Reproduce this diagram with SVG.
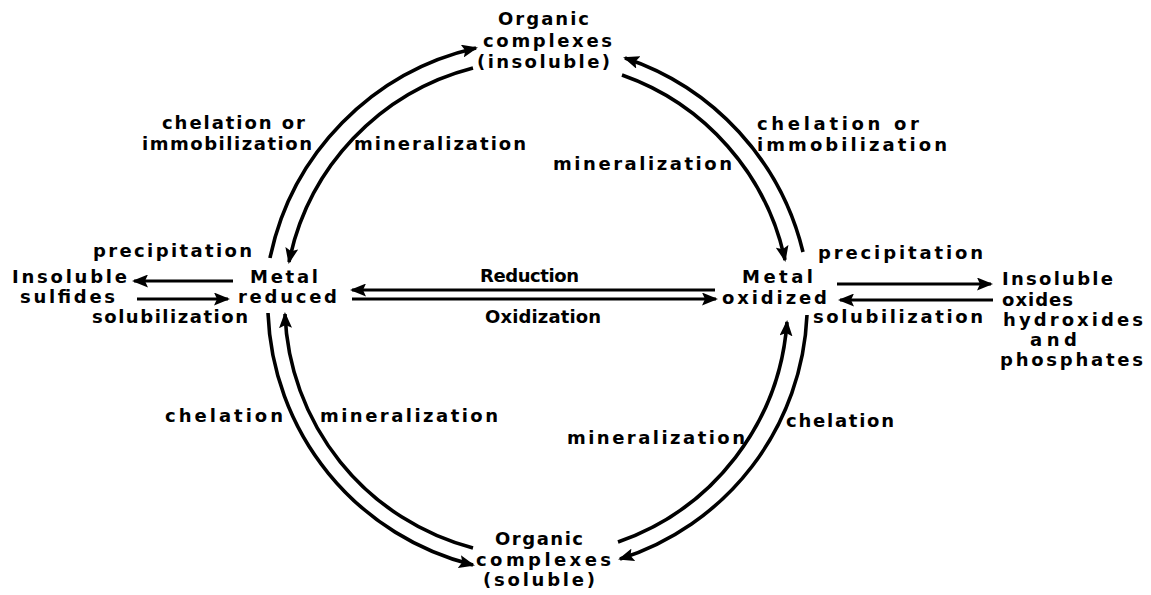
<svg xmlns="http://www.w3.org/2000/svg" width="1151" height="595" viewBox="0 0 1151 595">
<defs>
<marker id="ah" markerUnits="userSpaceOnUse" markerWidth="16" markerHeight="13" viewBox="0 0 16 13" refX="14" refY="6.5" orient="auto">
<path d="M0,0 L16,6.5 L0,13 L3,6.5 z" fill="#000"/>
</marker>
<style>
text{font-family:"DejaVu Sans","Liberation Sans",sans-serif;font-weight:bold;font-size:18px;fill:#000}
.c{fill:none;stroke:#000;stroke-width:3.6;marker-end:url(#ah)}
.s{fill:none;stroke:#000;stroke-width:3.2;marker-end:url(#ah)}
</style>
</defs>
<rect width="1151" height="595" fill="#fff"/>
<g id="node-top">
<text x="498" y="25" textLength="91" lengthAdjust="spacing">Organic</text>
<text x="483" y="47" textLength="129" lengthAdjust="spacing">complexes</text>
<text x="477" y="68" textLength="133" lengthAdjust="spacing">(insoluble)</text>
</g>
<g id="node-bottom">
<text x="495" y="545" textLength="88" lengthAdjust="spacing">Organic</text>
<text x="476" y="566" textLength="135" lengthAdjust="spacing">complexes</text>
<text x="483" y="586" textLength="112" lengthAdjust="spacing">(soluble)</text>
</g>
<g id="node-reduced">
<text x="250" y="283" textLength="68" lengthAdjust="spacing">Metal</text>
<text x="238" y="303" textLength="99" lengthAdjust="spacing">reduced</text>
</g>
<g id="node-oxidized">
<text x="742" y="283" textLength="71" lengthAdjust="spacing">Metal</text>
<text x="722" y="304" textLength="105" lengthAdjust="spacing">oxidized</text>
</g>
<g id="node-sulfides">
<text x="12" y="283" textLength="115" lengthAdjust="spacing">Insoluble</text>
<text x="20" y="303" textLength="95" lengthAdjust="spacing">sulfides</text>
</g>
<g id="node-oxides">
<text x="1002" y="285" textLength="111" lengthAdjust="spacing">Insoluble</text>
<text x="1002" y="306" textLength="71" lengthAdjust="spacing">oxides</text>
<text x="1003" y="326" textLength="140" lengthAdjust="spacing">hydroxides</text>
<text x="1030" y="346" textLength="47" lengthAdjust="spacing">and</text>
<text x="1000" y="366" textLength="143" lengthAdjust="spacing">phosphates</text>
</g>
<g id="connectors">
<path class="c" d="M270,258 A272,272 0 0 1 476,48"/>
<path class="c" d="M473,68 A252,252 0 0 0 289,262"/>
<path class="c" d="M803,252 A272,272 0 0 0 625,58"/>
<path class="c" d="M622,75 A252,252 0 0 1 785,260"/>
<path class="c" d="M268,313 A270,270 0 0 0 473,565"/>
<path class="c" d="M473,548 A252,252 0 0 1 285,314"/>
<path class="c" d="M807,315 A268,268 0 0 1 620,559"/>
<path class="c" d="M618,542 A252,252 0 0 0 787,322"/>
<path class="s" d="M233,281 L134,281"/>
<path class="s" d="M137,299 L228,299"/>
<path class="s" d="M715,290 L352,290"/>
<path class="s" d="M352,299 L716,299"/>
<path class="s" d="M837,284 L991,284"/>
<path class="s" d="M993,300 L840,300"/>
</g>
<g id="labels">
<text x="93" y="257" textLength="159" lengthAdjust="spacing">precipitation</text>
<text x="92" y="323" textLength="156" lengthAdjust="spacing">solubilization</text>
<text x="818" y="259" textLength="165" lengthAdjust="spacing">precipitation</text>
<text x="813" y="323" textLength="170" lengthAdjust="spacing">solubilization</text>
<text x="480" y="282" textLength="99" lengthAdjust="spacing">Reduction</text>
<text x="485" y="323" textLength="116" lengthAdjust="spacing">Oxidization</text>
<text x="162" y="129" textLength="143" lengthAdjust="spacing">chelation or</text>
<text x="142" y="150" textLength="170" lengthAdjust="spacing">immobilization</text>
<text x="354" y="150" textLength="172" lengthAdjust="spacing">mineralization</text>
<text x="757" y="130" textLength="162" lengthAdjust="spacing">chelation or</text>
<text x="757" y="151" textLength="190" lengthAdjust="spacing">immobilization</text>
<text x="553" y="170" textLength="179" lengthAdjust="spacing">mineralization</text>
<text x="165" y="422" textLength="118" lengthAdjust="spacing">chelation</text>
<text x="320" y="422" textLength="178" lengthAdjust="spacing">mineralization</text>
<text x="567" y="444" textLength="178" lengthAdjust="spacing">mineralization</text>
<text x="786" y="427" textLength="108" lengthAdjust="spacing">chelation</text>
</g>
</svg>
